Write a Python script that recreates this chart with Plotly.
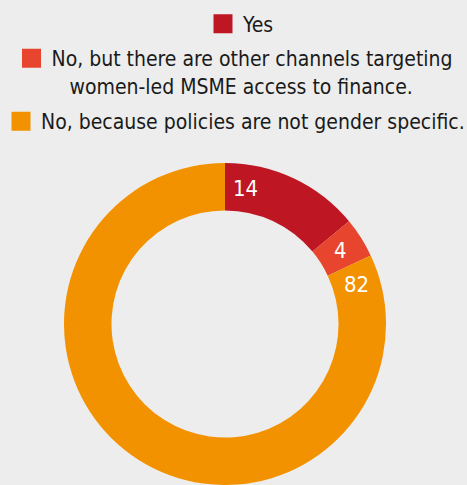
import math
import plotly.graph_objects as go

W, H = 467, 485

categories = [
    "Yes",
    "No, but there are other channels targeting<br>&nbsp;&nbsp;&nbsp;women-led MSME access to finance.",
    "No, because policies are not gender specific.",
]
values = [14, 4, 82]
colors = ["#BE1622", "#E8452F", "#F39200"]
BG = "#EDEDED"
FONT = "DejaVu Sans Condensed, DejaVu Sans, sans-serif"

dom_x = [0.1349, 0.8287]
dom_y = [0.0, 0.664]
hole = 0.705

fig = go.Figure()
fig.add_trace(go.Pie(
    labels=categories, values=values, sort=False, direction="clockwise",
    rotation=0, hole=hole, marker=dict(colors=colors, line=dict(width=0)),
    textinfo="none", showlegend=False, domain=dict(x=dom_x, y=dom_y),
))

# legend entries
legend_pos = [(203 / W, 1 - 3.5 / H), (11.5 / W, 1 - 38 / H), (1 / W, 1 - 101 / H)]
for i, (name, col) in enumerate(zip(categories, colors)):
    lg = "legend" if i == 0 else f"legend{i+1}"
    fig.add_trace(go.Scatter(
        x=[None], y=[None], mode="markers", name=name, legend=lg,
        marker=dict(symbol="square", size=16, color=col, line=dict(color=col, width=3)),
    ))

# value labels
cx = (dom_x[0] + dom_x[1]) / 2 * W
cy = H * (1 - (dom_y[0] + dom_y[1]) / 2)
r = min((dom_x[1] - dom_x[0]) * W, (dom_y[1] - dom_y[0]) * H) / 2
rm = r * (1 + hole) / 2
total = sum(values)
cum = 0
ann = []
for v in values:
    pct_start = cum / total * 100
    off = min(v / total * 100 / 2, 2.4)
    th = math.radians((pct_start + off) * 3.6)
    px = cx + rm * math.sin(th)
    py = cy - rm * math.cos(th)
    ann.append(dict(x=px / W, y=1 - py / H, xref="paper", yref="paper", text=str(v),
                    showarrow=False, xanchor="center", yanchor="middle",
                    font=dict(family=FONT, size=22, color="white")))
    cum += v

leg_common = dict(font=dict(family=FONT, size=21, color="#1a1a1a"), bgcolor="rgba(0,0,0,0)",
                  xanchor="left", yanchor="top", orientation="v", itemclick=False, itemdoubleclick=False)
fig.update_layout(
    width=W, height=H, paper_bgcolor=BG, plot_bgcolor=BG,
    margin=dict(l=0, r=0, t=0, b=0, autoexpand=False),
    xaxis=dict(visible=False), yaxis=dict(visible=False),
    legend=dict(x=legend_pos[0][0], y=legend_pos[0][1], **leg_common),
    legend2=dict(x=legend_pos[1][0], y=legend_pos[1][1], valign="top", **leg_common),
    legend3=dict(x=legend_pos[2][0], y=legend_pos[2][1], **leg_common),
    annotations=ann,
)
fig.write_html("out.html", config={"displayModeBar": False},
               post_script="document.body.style.margin='0px';")
